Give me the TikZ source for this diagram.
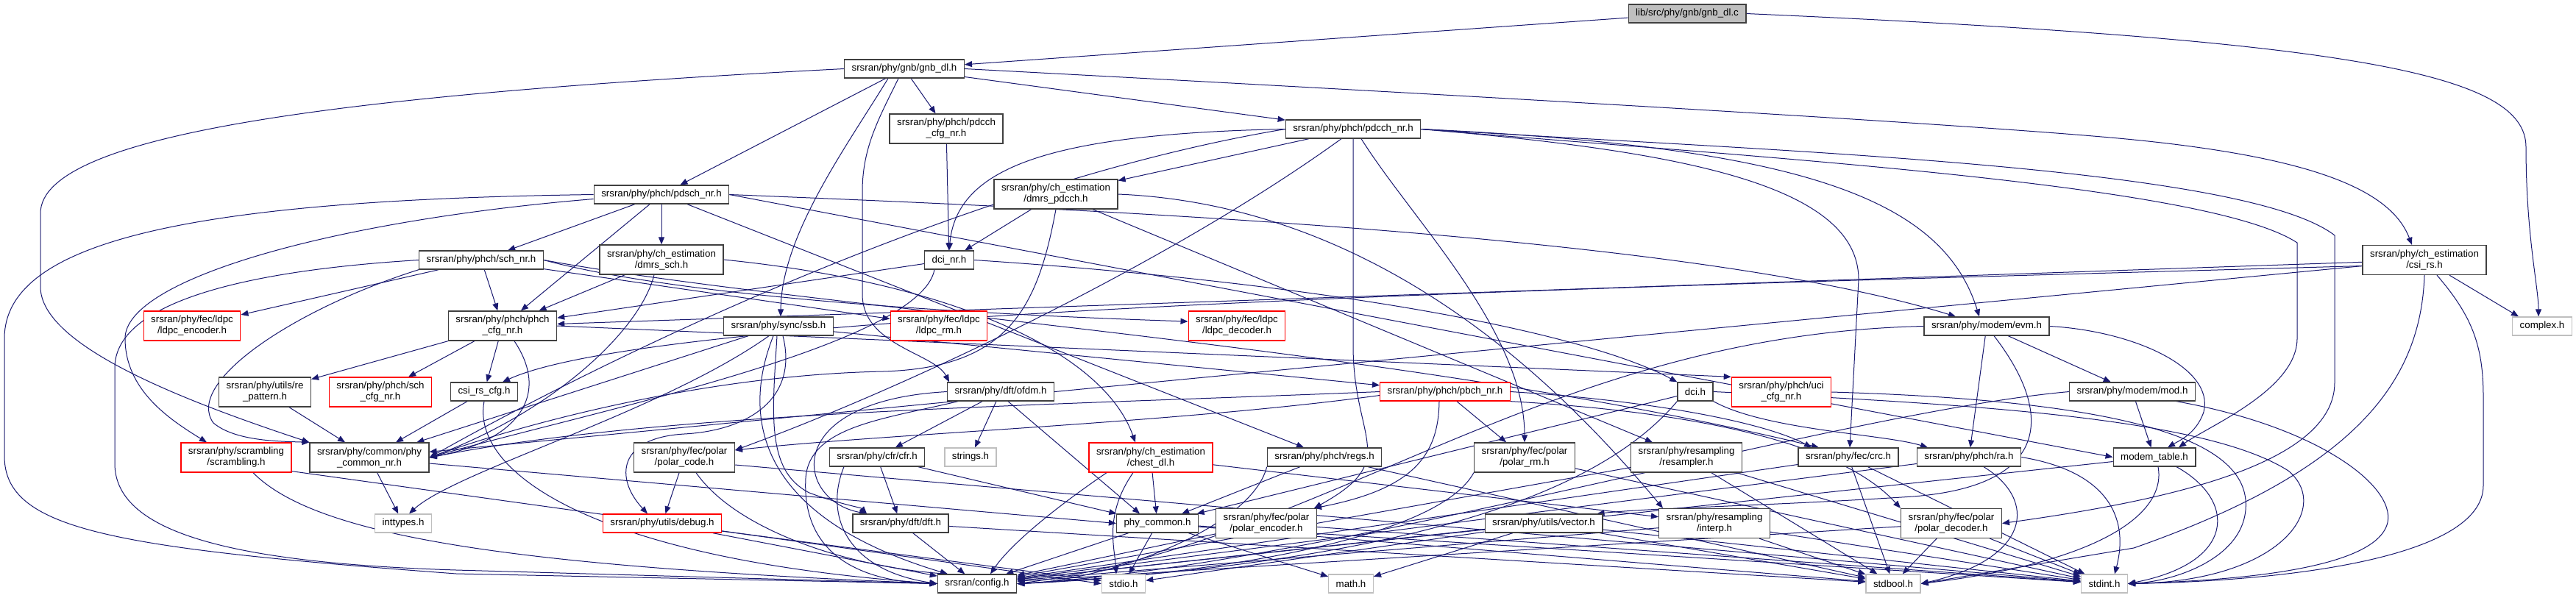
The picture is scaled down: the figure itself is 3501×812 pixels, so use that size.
\documentclass[tikz,border=0pt]{standalone}
\usepackage{fontspec}
\usepackage{tikz}
\usetikzlibrary{arrows.meta,positioning}
\newfontfamily\doxfont{Liberation Sans}
\definecolor{edgeblue}{RGB}{25,25,112}
\definecolor{boxgray}{RGB}{64,64,64}
\definecolor{sysgray}{RGB}{191,191,191}
\pgfdeclarelayer{bg}
\pgfsetlayers{bg,main}

\begin{document}
\begin{tikzpicture}[
  x=1pt, y=-1pt,
  font=\doxfont\fontsize{13.3}{15}\selectfont,
  box/.style={draw=boxgray, line width=1.3pt, fill=white, align=center,
    inner xsep=10pt, inner ysep=0pt, minimum height=25pt},
  tall/.style={box, minimum height=40pt},
  trunc/.style={draw=red},
  sys/.style={draw=sysgray},
  arr/.style={draw=edgeblue, line width=1pt, -{Triangle[length=10pt,width=8pt]}},
  links/.style={every edge/.style={arr}}
]
\useasboundingbox (0,0) rectangle (3501,812);

\node[box, fill=sysgray] (root) at (2293,18.5) {lib/src/phy/gnb/gnb\_dl.c};
\node[box] (gnbdlh) at (1229,93.5) {srsran/phy/gnb/gnb\_dl.h};
\node[tall] (pdcchcfg) at (1286,175) {srsran/phy/phch/pdcch\\\_cfg\_nr.h};
\node[box] (pdcchnr) at (1839,175.5) {srsran/phy/phch/pdcch\_nr.h};
\node[box] (pdschnr) at (899,264.5) {srsran/phy/phch/pdsch\_nr.h};
\node[tall] (dmrspdcch) at (1435,264) {srsran/phy/ch\_estimation\\/dmrs\_pdcch.h};
\node[tall] (csirs) at (3295,353.5) {srsran/phy/ch\_estimation\\/csi\_rs.h};
\node[box] (schnr) at (654,353.5) {srsran/phy/phch/sch\_nr.h};
\node[tall] (dmrssch) at (899,353) {srsran/phy/ch\_estimation\\/dmrs\_sch.h};
\node[box] (dcinr) at (1290,353.5) {dci\_nr.h};
\node[tall, trunc] (ldpcenc) at (261,443) {srsran/phy/fec/ldpc\\/ldpc\_encoder.h};
\node[tall] (phchcfg) at (683,443) {srsran/phy/phch/phch\\\_cfg\_nr.h};
\node[tall, trunc] (ldpcrm) at (1276,443) {srsran/phy/fec/ldpc\\/ldpc\_rm.h};
\node[tall, trunc] (ldpcdec) at (1681,443) {srsran/phy/fec/ldpc\\/ldpc\_decoder.h};
\node[box] (ssb) at (1058,443.5) {srsran/phy/sync/ssb.h};
\node[box] (evm) at (2700,443.5) {srsran/phy/modem/evm.h};
\node[box, sys] (complex) at (3455,443.5) {complex.h};
\node[tall] (repattern) at (360,533) {srsran/phy/utils/re\\\_pattern.h};
\node[tall, trunc] (schcfg) at (517,533) {srsran/phy/phch/sch\\\_cfg\_nr.h};
\node[box] (csirscfg) at (658,532.5) {csi\_rs\_cfg.h};
\node[box] (ofdm) at (1360,532.5) {srsran/phy/dft/ofdm.h};
\node[box, trunc] (pbchnr) at (1964,532.5) {srsran/phy/phch/pbch\_nr.h};
\node[box] (dci) at (2304,532.5) {dci.h};
\node[tall, trunc] (ucicfg) at (2421,533) {srsran/phy/phch/uci\\\_cfg\_nr.h};
\node[box] (mod) at (2898,532.5) {srsran/phy/modem/mod.h};
\node[tall, trunc] (scrambling) at (321,622) {srsran/phy/scrambling\\/scrambling.h};
\node[tall] (phycommonnr) at (502,622) {srsran/phy/common/phy\\\_common\_nr.h};
\node[tall] (polarcode) at (930,622) {srsran/phy/fec/polar\\/polar\_code.h};
\node[box] (cfr) at (1192,621.5) {srsran/phy/cfr/cfr.h};
\node[box, sys] (strings) at (1319,621.5) {strings.h};
\node[tall, trunc] (chestdl) at (1564,622) {srsran/phy/ch\_estimation\\/chest\_dl.h};
\node[box] (regs) at (1800,621.5) {srsran/phy/phch/regs.h};
\node[tall] (polarrm) at (2072,622) {srsran/phy/fec/polar\\/polar\_rm.h};
\node[tall] (resampler) at (2292,622) {srsran/phy/resampling\\/resampler.h};
\node[box] (crc) at (2512,621.5) {srsran/phy/fec/crc.h};
\node[box] (ra) at (2676,621.5) {srsran/phy/phch/ra.h};
\node[box] (modemtable) at (2928,621.5) {modem\_table.h};
\node[box, sys] (inttypes) at (548,711.5) {inttypes.h};
\node[box, trunc] (debug) at (900,711.5) {srsran/phy/utils/debug.h};
\node[box] (dft) at (1224,711.5) {srsran/phy/dft/dft.h};
\node[box] (phycommon) at (1573,711.5) {phy\_common.h};
\node[tall] (polarenc) at (1721,711.5) {srsran/phy/fec/polar\\/polar\_encoder.h};
\node[box] (vector) at (2098,711.5) {srsran/phy/utils/vector.h};
\node[tall] (interp) at (2330,711.5) {srsran/phy/resampling\\/interp.h};
\node[tall] (polardec) at (2652,711.5) {srsran/phy/fec/polar\\/polar\_decoder.h};
\node[box] (config) at (1328,793.5) {srsran/config.h};
\node[box, sys] (stdio) at (1527,793.5) {stdio.h};
\node[box, sys] (math) at (1836,793.5) {math.h};
\node[box, sys] (stdbool) at (2573,793.5) {stdbool.h};
\node[box, sys] (stdint) at (2860,793.5) {stdint.h};

\begin{pgfonlayer}{bg}
\fill[white] (0,0) rectangle (3501,812);
\path[links] (root) edge (gnbdlh);
\draw[arr] (root.east) .. controls (3200,55) and (3433,100) .. (3433,200)
  .. controls (3433,320) and (3450,390) .. ([xshift=-5pt]complex.north);

\path[links] (gnbdlh) edge (pdschnr) edge (pdcchcfg) edge (pdcchnr);
\draw[arr] ([xshift=-22pt]gnbdlh.south) .. controls (1150,200) and (1062,320) .. ([xshift=3pt]ssb.north);
\draw[arr] (gnbdlh.west) .. controls (480,128) and (55,180) .. (55,290)
  -- (55,390) .. controls (55,470) and (250,545) .. (phycommonnr.north west);
\draw[arr] ([xshift=-8pt]gnbdlh.south) .. controls (1195,160) and (1172,200) .. (1172,260)
  -- (1172,400) .. controls (1172,470) and (1270,480) .. ([xshift=-70pt]ofdm.north);
\draw[arr] (gnbdlh.east) .. controls (2000,130) and (2700,170) .. (2900,190)
  .. controls (3150,215) and (3250,260) .. ([xshift=-17pt]csirs.north);

\path[links] (pdcchcfg) edge (dcinr);

\path[links] (pdcchnr) edge (dmrspdcch);
\draw[arr] ([xshift=11pt]pdcchnr.south) .. controls (1920,300) and (2072,450) .. (polarrm.north);
\draw[arr] (pdcchnr.west) .. controls (1420,182) and (1300,230) .. (dcinr.north);
\draw[arr] (pdcchnr.west) .. controls (1300,250) and (800,500) .. (phycommonnr.east);
\draw[arr] ([xshift=-16pt]pdcchnr.south) .. controls (1600,350) and (1250,520) .. ([yshift=10pt]polarcode.east);
\draw[arr] (pdcchnr.south) -- (1839,470) .. controls (1839,600) and (1905,625) .. ([xshift=-4pt]polarenc.north east);
\draw[arr] (pdcchnr.east) .. controls (2280,205) and (2526,250) .. (2526,380) -- ([xshift=2pt]crc.north);
\draw[arr] (pdcchnr.east) .. controls (2450,200) and (2640,270) .. ([xshift=-10pt]evm.north);
\draw[arr] (pdcchnr.east) .. controls (2400,215) and (3000,250) .. (3122,330)
  -- (3122,460) .. controls (3122,530) and (3000,580) .. ([xshift=33pt]modemtable.north);
\draw[arr] (pdcchnr.east) .. controls (2400,205) and (3050,225) .. (3173,320)
  -- (3173,520) .. controls (3173,630) and (2950,680) .. (polardec.east);

\path[links] (dmrspdcch) edge (dcinr)
  ([xshift=50pt]dmrspdcch.south) edge ([xshift=-46pt]resampler.north);
\draw[arr] (dmrspdcch.south) .. controls (1410,420) and (1370,500) .. (1200,505)
  .. controls (950,510) and (700,580) .. (phycommonnr.east);
\draw[arr] (dmrspdcch.east) .. controls (1900,280) and (2150,560) .. ([xshift=-70pt]interp.north);

\path[links] (pdschnr) edge (schnr) edge (phchcfg) edge (dmrssch)
  ([xshift=35pt]pdschnr.south) edge ([xshift=-28pt]regs.north)
  (pdschnr.east) edge (modemtable.west);
\draw[arr] (pdschnr.east) .. controls (1500,285) and (2300,320) .. ([xshift=-42pt]evm.north);
\draw[arr] (pdschnr.west) .. controls (250,272) and (6,330) .. (6,460)
  -- (6,620) .. controls (6,720) and (150,745) .. (620,780) -- (config.west);
\draw[arr] ([yshift=-6pt]pdschnr.west) .. controls (450,300) and (170,380) .. (170,460)
  .. controls (170,530) and (230,570) .. ([xshift=-40pt]scrambling.north);

\path[links] (schnr) edge (ldpcenc) edge (phchcfg) edge (ldpcrm);
\draw[arr] (schnr.east) .. controls (950,410) and (1400,430) .. ([yshift=6pt]ldpcdec.west);
\draw[arr] (schnr.east) .. controls (1100,420) and (1900,470) .. ([xshift=-40pt]crc.north);
\draw[arr] (schnr.west) .. controls (300,370) and (156,420) .. (156,500) -- (156,630)
  .. controls (156,720) and (300,765) .. (620,775) -- (config.west);
\draw[arr] (schnr.south west) .. controls (400,420) and (250,520) .. (290,575)
  .. controls (320,600) and (380,600) .. (phycommonnr.north west);

\path[links] (dmrssch) edge (phchcfg);
\draw[arr] ([xshift=-10pt]dmrssch.south) .. controls (870,450) and (750,560) .. (phycommonnr.east);
\draw[arr] (dmrssch.east) .. controls (1300,385) and (1500,480) .. ([xshift=-21pt]chestdl.north);

\path[links] (dcinr) edge (phchcfg);
\draw[arr] ([xshift=-20pt]dcinr.south) .. controls (1250,470) and (800,560) .. (phycommonnr.east);
\draw[arr] (dcinr.east) .. controls (1800,385) and (2150,450) .. (dci.north west);

\path[links] (phchcfg) edge (repattern) edge (schcfg) edge (csirscfg)
  (phchcfg.east) edge (ucicfg.north west);
\draw[arr] ([xshift=16pt]phchcfg.south) .. controls (750,540) and (700,600) .. (phycommonnr.east);

\path[links] (csirscfg) edge (phycommonnr);
\draw[arr] (csirscfg.south) .. controls (640,640) and (800,760) .. (config.west);
\path[links] (repattern) edge (phycommonnr);

\path[links] (ssb) edge (pbchnr) edge (phycommonnr);
\draw[arr] ([xshift=-13pt]ssb.south) .. controls (900,560) and (620,640) .. ([xshift=8pt]inttypes.north);
\draw[arr] ([xshift=-7pt]ssb.south) .. controls (1010,560) and (1020,700) .. ([xshift=-40pt]config.north);
\draw[arr] ([xshift=-2pt]ssb.south) .. controls (1050,560) and (1040,640) .. (1100,670)
  .. controls (1140,685) and (1170,690) .. ([xshift=-46pt]dft.north);
\draw[arr] ([xshift=6pt]ssb.south) .. controls (1085,540) and (1020,585) .. (930,590)
  .. controls (840,595) and (835,650) .. ([xshift=-20pt]debug.north);

\path[links] (evm) edge (mod) edge (ra);
\draw[arr] (evm.west) .. controls (2100,455) and (1800,740) .. (config.east);
\draw[arr] (evm.east) .. controls (2900,450) and (3010,500) .. (2995,560)
  .. controls (2985,590) and (2960,600) .. ([xshift=18pt]modemtable.north);
\draw[arr] ([xshift=10pt]evm.south) .. controls (2790,560) and (2790,660) .. (2600,675)
  .. controls (2400,688) and (2250,690) .. ([xshift=-8pt]vector.north east);

\path[links] (mod) edge (modemtable);
\draw[arr] (mod.west) .. controls (2500,560) and (1800,770) .. (config.east);
\draw[arr] ([xshift=60pt]mod.south) .. controls (3150,580) and (3255,660) .. (3245,710)
  .. controls (3230,780) and (3000,790) .. (stdint.east);

\path[links] (modemtable) edge (config);
\draw[arr] ([xshift=5pt]modemtable.south) .. controls (2945,700) and (2850,765) .. (stdbool.east);
\draw[arr] ([xshift=30pt]modemtable.south) .. controls (3040,680) and (3040,765) .. (stdint.east);

\path[links] (ra) edge (config);
\draw[arr] ([xshift=20pt]ra.south) .. controls (2770,680) and (2760,760) .. (stdbool.east);
\draw[arr] (ra.east) .. controls (2860,640) and (2895,700) .. ([xshift=14pt]stdint.north);

\path[links] (crc) edge (config) edge (stdint) edge (stdbool);

\path[links] (dci) edge (phycommon);
\draw[arr] (dci.south west) .. controls (2200,640) and (2000,760) .. (config.east);
\draw[arr] (dci.south east) .. controls (2400,585) and (2560,590) .. ([xshift=-56pt]ra.north);
\draw[arr] (dci.east) .. controls (2700,550) and (3000,570) .. (3110,640)
  .. controls (3170,690) and (3100,790) .. (stdint.east);

\draw[arr] (ucicfg.east) .. controls (2900,545) and (3045,600) .. (3052,680)
  .. controls (3058,755) and (2960,790) .. (stdint.east);

\path[links] (pbchnr) edge (polarrm);
\draw[arr] (pbchnr.west) .. controls (1400,552) and (900,560) .. (phycommonnr.east);
\draw[arr] ([yshift=-5pt]pbchnr.west) .. controls (1600,575) and (1200,590) .. ([yshift=10pt]polarcode.east);
\draw[arr] ([xshift=-8pt]pbchnr.south) .. controls (1955,620) and (1920,665) .. ([xshift=-4pt]polarenc.north east);
\draw[arr] (pbchnr.south east) .. controls (2300,560) and (2500,600) .. (polardec.north west);
\draw[arr] (pbchnr.east) .. controls (2250,545) and (2400,575) .. ([xshift=-50pt]crc.north);

\draw[arr] ([xshift=23pt]scrambling.south) .. controls (430,730) and (700,770) .. (config.west);
\path[links] ([yshift=2pt]scrambling.south east) edge (stdio.west);

\path[links] (phycommonnr) edge (inttypes)
  ([yshift=-8pt]phycommonnr.east) edge (phycommon.west);

\path[links] (polarcode) edge (debug) ([yshift=-10pt]polarcode.east) edge (stdint);
\draw[arr] ([xshift=16pt]polarcode.south) .. controls (1000,720) and (1150,770) .. ([xshift=-40pt]config.north);

\path[links] (debug) edge (config) edge (stdio);

\path[links] (cfr) edge (dft) edge (phycommon);
\draw[arr] ([xshift=-45pt]cfr.south) .. controls (1120,700) and (1150,775) .. (config.west);

\path[links] (ofdm) edge (cfr) edge (strings)
  ([xshift=10pt]ofdm.south) edge ([xshift=-24pt]phycommon.north);
\draw[arr] (ofdm.west) .. controls (1060,545) and (1080,680) .. ([xshift=-46pt]dft.north);
\draw[arr] ([xshift=-58pt]ofdm.south) .. controls (1200,570) and (1100,580) .. (1095,650)
  .. controls (1090,740) and (1150,790) .. (config.west);

\path[links] (chestdl) edge (phycommon) edge (interp);
\draw[arr] ([xshift=-60pt]chestdl.south) .. controls (1420,700) and (1370,745) .. ([xshift=18pt]config.north);
\draw[arr] ([xshift=-24pt]chestdl.south) .. controls (1500,700) and (1515,745) .. ([xshift=-10pt]stdio.north);

\path[links] (regs) edge (phycommon) edge (stdbool);
\draw[arr] (regs.south west) .. controls (1700,720) and (1500,790) .. (config.east);

\path[links] (polarrm) edge (stdint);
\draw[arr] (polarrm.south west) .. controls (1950,740) and (1600,785) .. (config.east);

\path[links] (resampler) edge (config) edge (stdbool) edge (stdint);
\path[links] (interp) edge (config) edge (stdbool) edge (stdint);
\path[links] (polarenc) edge (config) edge (stdint);
\path[links] (vector) edge (config) edge (math) edge (stdio) edge (stdbool) edge (stdint);
\path[links] (polardec) edge (config) edge (stdbool) edge (stdint);
\path[links] (phycommon) edge (config) edge (stdio) edge (math) edge (stdbool) edge (stdint);
\path[links] (dft) edge (config) edge (stdbool);

\path[links] (csirs) edge (phchcfg) edge (phycommonnr)
  ([xshift=34pt]csirs.south) edge ([xshift=-32pt]complex.north);
\draw[arr] ([yshift=-8pt]csirs.west) .. controls (2200,390) and (900,420) .. ([xshift=25pt]csirscfg.north);
\draw[arr] (csirs.south) .. controls (3290,520) and (3200,640) .. (2900,745) -- (stdbool.east);
\draw[arr] ([xshift=17pt]csirs.south) .. controls (3360,430) and (3375,470) .. (3375,540)
  -- (3375,660) .. controls (3375,760) and (3100,790) .. (stdint.east);
\end{pgfonlayer}
\end{tikzpicture}
\end{document}
